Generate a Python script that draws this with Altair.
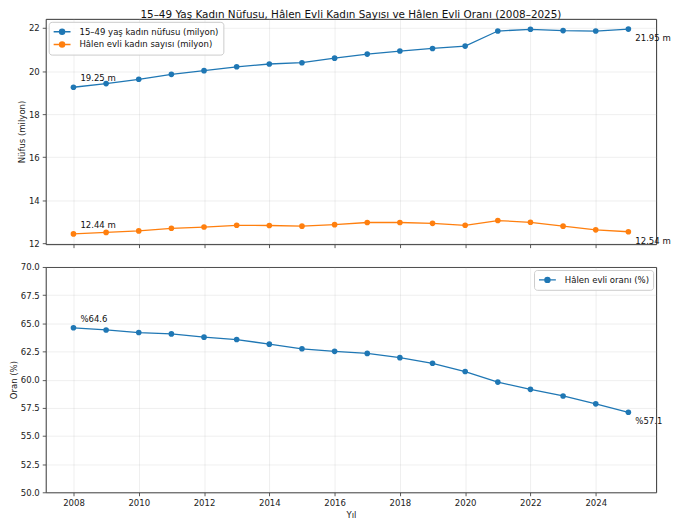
import altair as alt
import pandas as pd

years = list(range(2008, 2026))
women_15_49 = [19.25, 19.42, 19.62, 19.85, 20.02, 20.20, 20.33, 20.39, 20.60,
               20.79, 20.93, 21.05, 21.16, 21.86, 21.94, 21.88, 21.86, 21.95]
married_women = [12.44, 12.51, 12.58, 12.70, 12.76, 12.84, 12.83, 12.80, 12.87,
                 12.97, 12.97, 12.93, 12.84, 13.06, 12.98, 12.80, 12.63, 12.54]
married_rate = [64.6, 64.41, 64.18, 64.06, 63.77, 63.56, 63.15, 62.74, 62.51,
                62.33, 61.95, 61.45, 60.72, 59.78, 59.14, 58.55, 57.85, 57.1]

s_pop = "15–49 yaş kadın nüfusu (milyon)"
s_mar = "Hâlen evli kadın sayısı (milyon)"
s_rate = "Hâlen evli oranı (%)"
title_text = "15–49 Yaş Kadın Nüfusu, Hâlen Evli Kadın Sayısı ve Hâlen Evli Oranı (2008–2025)"

BLUE = "#1f77b4"
ORANGE = "#ff7f0e"
FONT = "DejaVu Sans"
FS = 8.6

top_df = pd.DataFrame({
    "year": years * 2,
    "value": women_15_49 + married_women,
    "series": [s_pop] * len(years) + [s_mar] * len(years),
})
bot_df = pd.DataFrame({"year": years, "value": married_rate, "series": [s_rate] * len(years)})

top_first = pd.DataFrame({
    "year": [years[0], years[0]],
    "value": [women_15_49[0], married_women[0]],
    "label": [f"{women_15_49[0]:.2f} m", f"{married_women[0]:.2f} m"],
})
top_last = pd.DataFrame({
    "year": [years[-1], years[-1]],
    "value": [women_15_49[-1], married_women[-1]],
    "label": [f"{women_15_49[-1]:.2f} m", f"{married_women[-1]:.2f} m"],
})
bot_first = pd.DataFrame({"year": [years[0]], "value": [married_rate[0]],
                          "label": [f"%{married_rate[0]:.1f}"]})
bot_last = pd.DataFrame({"year": [years[-1]], "value": [married_rate[-1]],
                         "label": [f"%{married_rate[-1]:.1f}"]})

sym_path = ("M-1,0L1,0"
            "M0.3,0A0.3,0.3,0,1,1,-0.3,0A0.3,0.3,0,1,1,0.3,0"
            "M0.2,0A0.2,0.2,0,1,1,-0.2,0A0.2,0.2,0,1,1,0.2,0"
            "M0.1,0A0.1,0.1,0,1,1,-0.1,0A0.1,0.1,0,1,1,0.1,0")

x_scale = alt.Scale(domain=[2007.15, 2025.85], nice=False, zero=False)
x_ticks = list(range(2008, 2026, 2))


def legend(orient):
    return alt.Legend(
        title=None, orient=orient, offset=3, symbolType=sym_path, symbolSize=289,
        symbolStrokeWidth=1.4, clipHeight=12, rowPadding=0.8, labelOffset=8,
        labelFontSize=FS, labelFont=FONT, labelColor="#111", padding=4,
        fillColor="rgba(255,255,255,0.85)", strokeColor="#cccccc", cornerRadius=3,
    )


top_color = alt.Color("series:N", scale=alt.Scale(domain=[s_pop, s_mar], range=[BLUE, ORANGE]),
                      legend=legend("top-left"), sort=[s_pop, s_mar])
bot_color = alt.Color("series:N", scale=alt.Scale(domain=[s_rate], range=[BLUE]),
                      legend=legend("top-right"))

x_top = alt.X("year:Q", scale=x_scale, title=None,
              axis=alt.Axis(values=x_ticks, labels=False, format="d"))
x_bot = alt.X("year:Q", scale=x_scale, title="Yıl",
              axis=alt.Axis(values=x_ticks, format="d"))

y_top = alt.Y("value:Q", scale=alt.Scale(domain=[11.9645, 22.4255], nice=False, zero=False),
              title="Nüfus (milyon)", axis=alt.Axis(values=[12, 14, 16, 18, 20, 22], format="d"))
y_bot = alt.Y("value:Q", scale=alt.Scale(domain=[50, 70], nice=False, zero=False),
              title="Oran (%)",
              axis=alt.Axis(values=[50, 52.5, 55, 57.5, 60, 62.5, 65, 67.5, 70], format=".1f"))

top_line = alt.Chart(top_df).mark_line(strokeWidth=1.3).encode(
    x=x_top, y=y_top, color=top_color, detail="series:N")
top_pts = alt.Chart(top_df).mark_circle(size=32, opacity=1).encode(
    x=x_top, y=y_top, color=alt.Color("series:N", legend=None))
txt_first = alt.Chart(top_first).mark_text(
    align="left", baseline="bottom", dx=7, dy=-4, fontSize=FS, font=FONT, color="#111"
).encode(x=x_top, y=y_top, text="label:N")
txt_last = alt.Chart(top_last).mark_text(
    align="left", baseline="top", dx=7, dy=5, fontSize=FS, font=FONT, color="#111"
).encode(x=x_top, y=y_top, text="label:N")

top = alt.layer(top_line, top_pts, txt_first, txt_last).properties(
    width=615, height=227,
    title=alt.TitleParams(title_text, fontSize=10.5, font=FONT, fontWeight="normal",
                          anchor="middle", frame="group", offset=-2, color="#111"),
)

bot_line = alt.Chart(bot_df).mark_line(strokeWidth=1.3).encode(
    x=x_bot, y=y_bot, color=bot_color)
bot_pts = alt.Chart(bot_df).mark_circle(size=32, opacity=1).encode(
    x=x_bot, y=y_bot, color=alt.Color("series:N", legend=None))
btxt_first = alt.Chart(bot_first).mark_text(
    align="left", baseline="bottom", dx=7, dy=-4, fontSize=FS, font=FONT, color="#111"
).encode(x=x_bot, y=y_bot, text="label:N")
btxt_last = alt.Chart(bot_last).mark_text(
    align="left", baseline="top", dx=7, dy=5, fontSize=FS, font=FONT, color="#111"
).encode(x=x_bot, y=y_bot, text="label:N")

bottom = alt.layer(bot_line, bot_pts, btxt_first, btxt_last).properties(width=615, height=227)

chart = alt.vconcat(top, bottom, spacing=13).resolve_scale(color="independent").properties(
    padding={"left": 0, "top": 0, "right": 0, "bottom": 0}
).configure(font=FONT).configure_view(
    stroke="#333333", strokeWidth=1
).configure_axis(
    domain=False, grid=True, gridColor="#b0b0b0", gridOpacity=0.3, gridWidth=0.7,
    tickColor="#333333", tickSize=3.5, tickWidth=0.8, labelPadding=3, titlePadding=2,
    labelFont=FONT, labelFontSize=FS, labelColor="#222222",
    titleFont=FONT, titleFontSize=FS, titleFontWeight="normal", titleColor="#222222",
).configure_axisBottom(titlePadding=3)

chart.save("out.html", embed_options={"renderer": "svg", "actions": False})
